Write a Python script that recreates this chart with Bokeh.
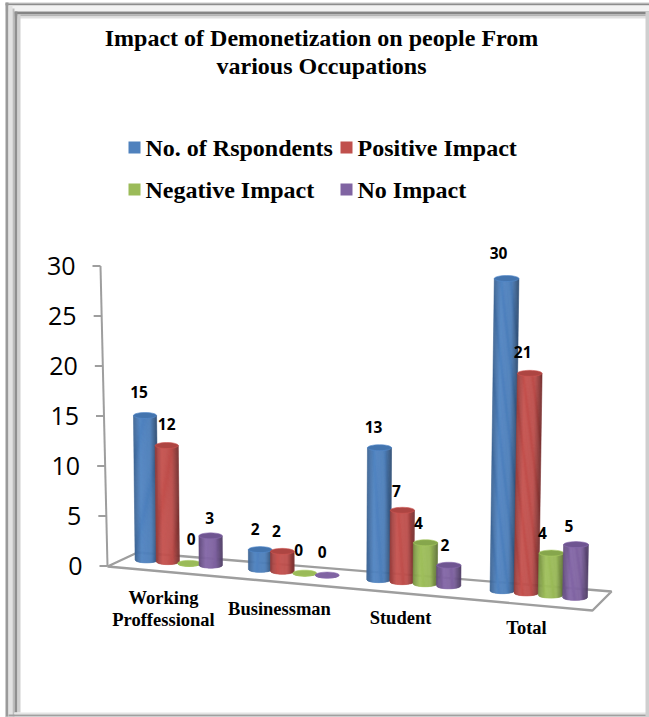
from bokeh.core.properties import value
from bokeh.embed import file_html
from bokeh.models import Range1d
from bokeh.plotting import figure
from bokeh.resources import INLINE
import math

# Survey counts per occupation
categories = ["Working\nProffessional", "Businessman", "Student", "Total"]
series_names = ["No. of Rspondents", "Positive Impact", "Negative Impact", "No Impact"]
respondents = [15, 2, 13, 30]
positive_impact = [12, 2, 7, 21]
negative_impact = [0, 0, 4, 4]
no_impact = [3, 0, 2, 5]
tick_values = [0, 5, 10, 15, 20, 25, 30]

series_values = [respondents, positive_impact, negative_impact, no_impact]

# Palette: mid tone, top cap
mid_colors = ["#4F81BD", "#C0504D", "#9BBB59", "#8064A2"]
cap_colors = ["#4374AE", "#AD4542", "#86A64C", "#6F5591"]

W, H = 649, 717
Y0 = 565.5          # page row of the value zero on the axis
PX_PER_UNIT = 10.0  # vertical scale of the figure


def row(px):
    """Convert a page row into the figure's value scale."""
    return (Y0 - px) / PX_PER_UNIT


p = figure(width=W, height=H, x_range=Range1d(0, W),
           y_range=Range1d(row(H), row(0)),
           x_axis_type=None, y_axis_type=None, toolbar_location=None,
           output_backend="svg", min_border=0, outline_line_color=None,
           background_fill_color="white", border_fill_color="white")


def shade(hex_color, f):
    r, g, b = (int(hex_color[i:i + 2], 16) for i in (1, 3, 5))
    return "#%02x%02x%02x" % tuple(min(255, max(0, int(c * f))) for c in (r, g, b))


# Bevelled picture frame
frame_bands = [
    # left, right, top row, bottom row, colour
    (5, W, 2, 3, "#c8c8c8"), (5, W, 3, 5, "#8c8c8c"), (5, W, 5, 11, "#f2f2f2"),
    (14, W, 11, 14, "#858585"), (14, W, 14, 16, "#b4b4b4"), (14, W, 16, 18, "#e0e0e0"),
    (5, 8, 2, H, "#9a9a9a"), (8, 12, 5, H, "#e2e2e2"), (12, 14, 8, H, "#bdbdbd"),
    (14, 17, 11, 712, "#8f8f8f"), (17, 20, 14, 712, "#d0d0d0"),
    (14, W, 712, 714, "#e4e4e4"), (8, W, 714, 716, "#a0a0a0"), (5, W, 716, H, "#d0d0d0"),
    (645, W, 11, H, "#cfcfcf"),
]
for l, r, t, b, c in frame_bands:
    p.quad(left=[l], right=[r], top=[row(t)], bottom=[row(b)], fill_color=c, line_color=None)

# Title
p.text(x=[321, 321], y=[row(37), row(65)],
       text=["Impact of Demonetization on people From", "various Occupations"],
       text_font=value("Liberation Serif"), text_font_style="bold", text_font_size="24px",
       text_align="center", text_baseline="middle", text_color="#000000")

# Legend
legend_cols = [128, 340, 128, 340]
legend_rows = [147, 147, 189, 189]
for name, color, lx, ly in zip(series_names, mid_colors, legend_cols, legend_rows):
    p.quad(left=[lx], right=[lx + 12], top=[row(ly - 6)], bottom=[row(ly + 6)],
           fill_color=color, line_color=None)
    p.text(x=[lx + 17], y=[row(ly + 0.5)], text=[name],
           text_font=value("Liberation Serif"), text_font_style="bold", text_font_size="24px",
           text_align="left", text_baseline="middle", text_color="#000000")

# Receding floor and skewed value axis
AXIS_GRAY = "#9e9e9e"
floor_cols = [107, 592, 611, 137, 107]
floor_rows = [566, 610, 591, 552, 566]
p.line(floor_cols, [row(v) for v in floor_rows], line_color=AXIS_GRAY, line_width=2.4)


def axis_col(v):
    return 107 - v * 7 / 30


p.line([axis_col(0), axis_col(30)], [row(566), 30], line_color=AXIS_GRAY, line_width=2)
p.segment(x0=[axis_col(v) - 8 for v in tick_values], x1=[axis_col(v) for v in tick_values],
          y0=tick_values, y1=tick_values, line_color=AXIS_GRAY, line_width=2)
p.text(x=[axis_col(v) - 25 for v in tick_values], y=[v + 0.05 for v in tick_values],
       text=[str(v) for v in tick_values],
       text_font=value("Open Sans"), text_font_size="25px", text_align="right",
       text_baseline="middle", text_color="#000000")


# Perspective of the floor: t counts along the category axis
def floor_col(t):
    return 178 + 112.5 * t + 2.5 * t * t


def floor_row(t):
    return 562 + 9.3 * t + 0.4 * t * t


def unit_height(t):
    return 9.7 + 0.26 * t


def half_width(t):
    return 11.6 + 0.25 * t


def lean(col):
    return 0.0007 * (col - 300)


CAP_B = 3.0
STRIPS = 22
SLOT = 0.19


def ellipse_pts(cx, cy, a, b, n=28):
    xs, ys = [], []
    for i in range(n):
        ang = 2 * math.pi * i / n
        xs.append(cx + a * math.cos(ang))
        ys.append(row(cy + b * math.sin(ang)))
    return xs, ys


def body_tone(u):
    if u < -0.4:
        return 0.78 + (u + 1) / 0.6 * 0.25
    if u < 0.45:
        return 1.03 - (u + 0.4) / 0.85 * 0.05
    return 0.98 - (u - 0.45) / 0.55 * 0.36


def draw_cylinder(t, val, mid, cap):
    cx = floor_col(t)
    cy = floor_row(t)
    a = half_width(t)
    rise = val * unit_height(t)
    top_x = cx + val * lean(cx)
    top_y = cy - rise
    xs, ys, colors = [], [], []
    for j in range(STRIPS):
        u0 = -1 + 2 * j / STRIPS
        u1 = -1 + 2 * (j + 1) / STRIPS
        d0 = CAP_B * max(0.0, 1 - u0 * u0) ** 0.5
        d1 = CAP_B * max(0.0, 1 - u1 * u1) ** 0.5
        xs.append([cx + u0 * a, cx + u1 * a, top_x + u1 * a, top_x + u0 * a])
        ys.append([row(cy + d0), row(cy + d1), row(top_y), row(top_y)])
        colors.append(shade(mid, body_tone((u0 + u1) / 2)))
    p.patches(xs, ys, fill_color=colors, line_color=colors, line_width=0.6)
    ex, ey = ellipse_pts(top_x, top_y, a, CAP_B)
    p.patch(ex, ey, fill_color=cap if val > 0 else mid, line_color=shade(mid, 1.08), line_width=0.6)
    return top_x, top_y


# Offsets of each value label from its cylinder's cap, by category then series
label_dx = [[-6, 0, 2, -1], [-5, -6, -6, -5], [-6, -6, -7, -4], [-8, -7, -9, -7]]
label_dy = [[-23, -22, -24, -18], [-21, -20, -23, -23], [-21, -19, -20, -20], [-26, -21, -20, -19]]

# Cylinders, left to right so that each one overlaps its neighbour
label_x, label_y, label_text = [], [], []
for g in range(len(categories)):
    for s, vals in enumerate(series_values):
        t = g + (s - 1.5) * SLOT
        tx, ty = draw_cylinder(t, vals[g], mid_colors[s], cap_colors[s])
        label_x.append(tx + label_dx[g][s])
        label_y.append(row(ty + label_dy[g][s]))
        label_text.append(str(vals[g]))

# Value labels above each cylinder
p.text(x=label_x, y=label_y, text=label_text,
       text_font=value("Open Sans"), text_font_style="bold", text_font_size="15.5px",
       text_align="center", text_baseline="middle", text_color="#000000")

# Category labels along the front edge
cat_cols = [163, 279, 400, 526]
cat_rows = [[597, 619], [608], [617], [627]]
for label, cx, rows_ in zip(categories, cat_cols, cat_rows):
    for line, r_ in zip(label.split("\n"), rows_):
        p.text(x=[cx], y=[row(r_)], text=[line],
               text_font=value("Liberation Serif"), text_font_style="bold", text_font_size="18.5px",
               text_align="center", text_baseline="middle", text_color="#000000")

open("out.html", "w").write(file_html(p, INLINE))
